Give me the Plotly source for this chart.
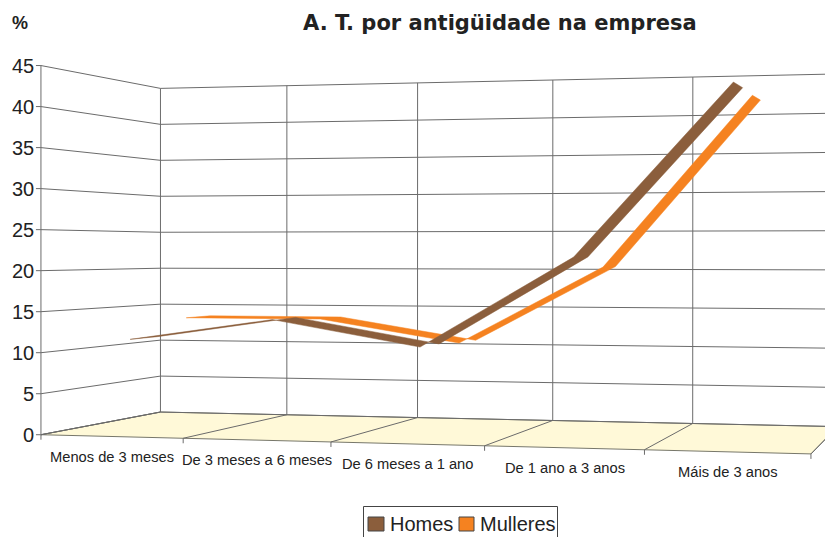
import numpy as np
import plotly.graph_objects as go

categories = ["Menos de 3 meses", "De 3 meses a 6 meses", "De 6 meses a 1 ano", "De 1 ano a 3 anos", "Máis de 3 anos"]
homes = [11.5, 14.1, 11.0, 21.7, 41.7]
mulleres = [13.6, 13.6, 10.7, 20.4, 41.5]
value_ticks = [0, 5, 10, 15, 20, 25, 30, 35, 40, 45]
title = "A. T. por antigüidade na empresa"
unit = "%"
homes_color = "#8B5E3C"
mulleres_color = "#F58220"

# 3D box calibration: (category position, value, depth) -> canvas pixel
anchors = [
    (0, 0, 0, 41, 435), (0, 45, 0, 41, 65), (0, 0, 1, 160, 412), (0, 45, 1, 160, 89),
    (1, 0, 1, 287.5, 414), (1, 45, 1, 287.5, 86), (2, 0, 1, 417, 418), (3, 0, 1, 553, 420),
    (4, 0, 1, 692.5, 423.5), (4, 45, 1, 692.5, 77), (5, 0, 1, 838, 427), (5, 45, 1, 838, 73.5),
    (1, 0, 0, 183, 438), (2, 0, 0, 331, 442), (3, 0, 0, 485, 446), (4, 0, 0, 645, 450), (5, 0, 0, 810, 454),
]
A, b = [], []
for X, Y, Z, u, v in anchors:
    A.append([X, Y, Z, 1, 0, 0, 0, 0, -u * X, -u * Y, -u * Z]); b.append(u)
    A.append([0, 0, 0, 0, X, Y, Z, 1, -v * X, -v * Y, -v * Z]); b.append(v)
sol = np.linalg.lstsq(np.array(A, float), np.array(b, float), rcond=None)[0]
P = np.append(sol, 1).reshape(3, 4)


def proj(X, Y, Z):
    h = P @ np.array([X, Y, Z, 1.0])
    return h[0] / h[2], h[1] / h[2]


def polyline(pts):
    xs, ys = [], []
    for p in pts:
        if p is None:
            xs.append(None); ys.append(None)
        else:
            u, v = proj(*p); xs.append(u); ys.append(v)
    return xs, ys


def ribbon(values, z0, z1):
    pos = [i + 0.5 for i in range(len(values))]
    pts = [(x, y, z0) for x, y in zip(pos, values)] + [(x, y, z1) for x, y in reversed(list(zip(pos, values)))]
    pts.append(pts[0])
    return polyline(pts)


n = len(categories)
fig = go.Figure()
GRID = "#6b6b6b"

fx, fy = polyline([(0, 0, 0), (n, 0, 0), (n, 0, 1), (0, 0, 1), (0, 0, 0)])
fig.add_trace(go.Scatter(x=fx, y=fy, mode="lines", fill="toself", fillcolor="#FFF9D8",
                         line=dict(color="#77776a", width=1), hoverinfo="skip", showlegend=False))

grid = []
for t in value_ticks:
    grid += [(0, t, 0), (0, t, 1), (n, t, 1), None]
for i in range(n + 1):
    grid += [(i, 0, 1), (i, value_ticks[-1], 1), None]
    grid += [(i, 0, 0), (i, 0, 1), None]
grid += [(0, 0, 0), (0, value_ticks[-1], 0), None]
gx, gy = polyline(grid)
fig.add_trace(go.Scatter(x=gx, y=gy, mode="lines", line=dict(color=GRID, width=1), hoverinfo="skip", showlegend=False))

# tick marks
tx, ty = [], []
for t in value_ticks:
    u, v = proj(0, t, 0)
    tx += [u - 5, u, None]; ty += [v, v, None]
for i in range(n + 1):
    u, v = proj(i, 0, 0)
    tx += [u, u, None]; ty += [v, v + 5, None]
fig.add_trace(go.Scatter(x=tx, y=ty, mode="lines", line=dict(color=GRID, width=1), hoverinfo="skip", showlegend=False))

for vals, col, z0, z1, name in [(mulleres, mulleres_color, 0.64, 0.87, "Mulleres"), (homes, homes_color, 0.15, 0.38, "Homes")]:
    rx, ry = ribbon(vals, z0, z1)
    fig.add_trace(go.Scatter(x=rx, y=ry, mode="lines", fill="toself", fillcolor=col,
                             line=dict(color=col, width=0.5), name=name, showlegend=False))

ann = []
for t in value_ticks:
    u, v = proj(0, t, 0)
    ann.append(dict(x=36, y=v, text=str(t), xanchor="right", yanchor="middle", showarrow=False,
                    font=dict(family="Liberation Sans", size=20, color="#222")))
for i, c in enumerate(categories):
    u0, v0 = proj(i, 0, 0); u1, v1 = proj(i + 1, 0, 0)
    ann.append(dict(x=(u0 + u1) / 2, y=(v0 + v1) / 2 + 20, text=c, xanchor="center", yanchor="middle", showarrow=False,
                    font=dict(family="Liberation Sans", size=14.7, color="#222")))
ann.append(dict(x=500, y=23, text=f"<b>{title}</b>", showarrow=False, xanchor="center", yanchor="middle",
                font=dict(family="DejaVu Sans", size=21, color="#222")))
ann.append(dict(x=20, y=23, text=f"<b>{unit}</b>", showarrow=False, xanchor="center", yanchor="middle",
                font=dict(family="Liberation Sans", size=18, color="#222")))
ann.append(dict(x=388, y=524, text="Homes", showarrow=False, xanchor="left", yanchor="middle",
                font=dict(family="Liberation Sans", size=20, color="#222")))
ann.append(dict(x=478, y=524, text="Mulleres", showarrow=False, xanchor="left", yanchor="middle",
                font=dict(family="Liberation Sans", size=20, color="#222")))

shapes = [
    dict(type="rect", x0=363.5, x1=557.5, y0=506.5, y1=540, line=dict(color="#444", width=1), fillcolor="white"),
    dict(type="rect", x0=368, x1=384, y0=517, y1=531, line=dict(color="#444", width=1), fillcolor=homes_color),
    dict(type="rect", x0=459, x1=474, y0=517, y1=531, line=dict(color="#444", width=1), fillcolor=mulleres_color),
]

fig.update_layout(
    width=825, height=537, margin=dict(l=0, r=0, t=0, b=0), paper_bgcolor="white", plot_bgcolor="white",
    xaxis=dict(range=[0, 825], visible=False, fixedrange=True),
    yaxis=dict(range=[537, 0], visible=False, fixedrange=True),
    annotations=ann, shapes=shapes, showlegend=False,
)
fig.write_html("out.html", config={"displayModeBar": False},
               post_script="document.body.style.margin='0';document.body.style.overflow='hidden';")
